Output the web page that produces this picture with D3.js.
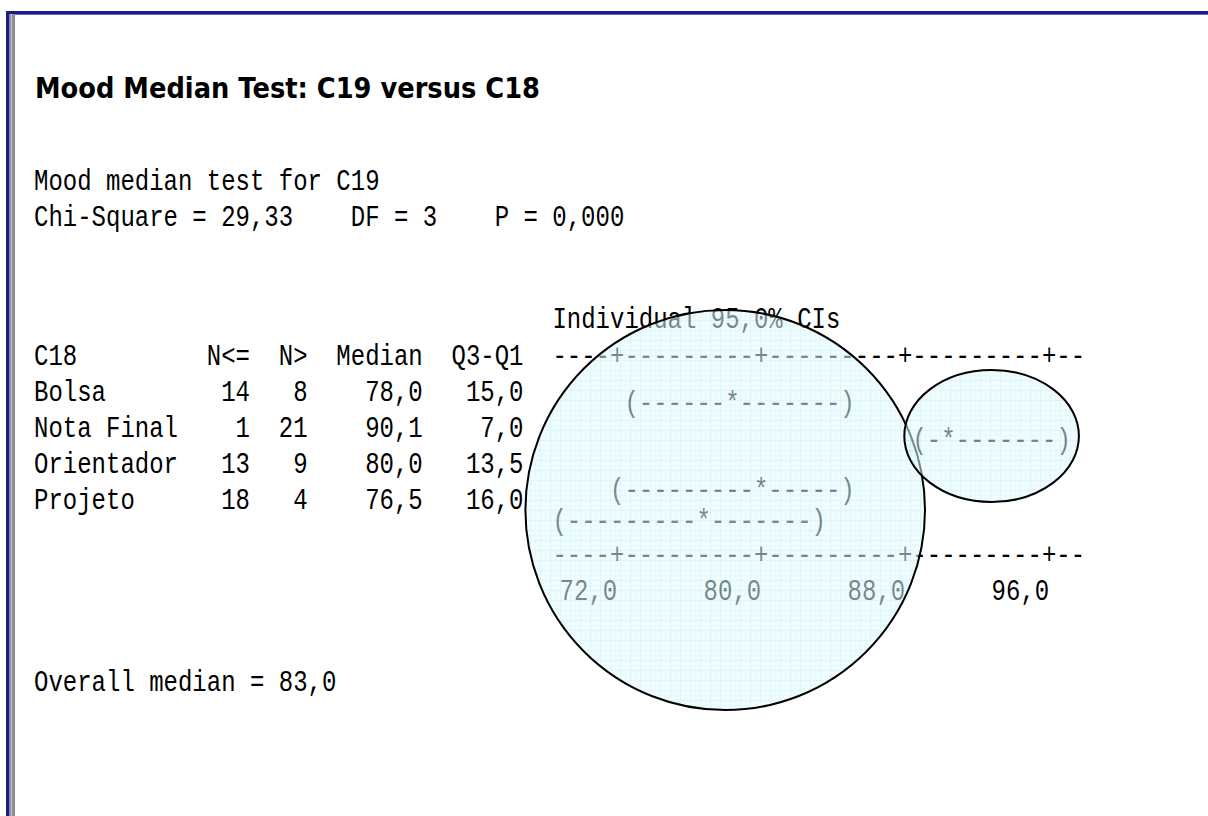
<!DOCTYPE html>
<html>
<head>
<meta charset="utf-8">
<script src="https://cdn.jsdelivr.net/npm/d3@7"></script>
<style>
  body { margin: 0; background: #fff; }
  svg { display: block; }
</style>
</head>
<body>
<div id="chart"></div>
<script>
// Minitab session output: Mood median test, C19 by C18
const titleText = 'Mood Median Test: C19 versus C18';
const responseName = 'C19';
const factorName = 'C18';
const groups = ['Bolsa', 'Nota Final', 'Orientador', 'Projeto'];
const nBelow = [14, 1, 13, 18];
const nAbove = [8, 21, 9, 4];
const medians = [78.0, 90.1, 80.0, 76.5];
const iqrs = [15.0, 7.0, 13.5, 16.0];
const ciLow = [72.8, 88.7, 71.9, 68.8];
const ciHigh = [84.8, 96.6, 84.8, 83.1];
const axisTicks = [72, 80, 88, 96];
const chiSquare = 29.33;
const degFree = 3;
const pValue = 0.000;
const overallMedian = 83.0;
const ciLevel = 95.0;

// highlight circles, in axis units (x) and pixels (y)
const highlightX = [78.0, 92.8];
const highlightRx = [11.1, 4.85];
const highlightCy = [510, 436];
const highlightRy = [200, 66];

const W = 1208, H = 816;
const m = {left: 34, charW: 14.4, stretch: 1.2, axisCol: 36,
  lines: {mood: 190, chi: 226, ind: 328, head: 365, firstRow: 401, rowH: 36, axis: 564, labels: 600, overall: 691},
  ciShift: [11, 12, 26, 21]};

const svg = d3.select('#chart').append('svg')
  .attr('width', W)
  .attr('height', H);

const defs = svg.append('defs');
const pat = defs.append('pattern')
  .attr('id', 'grid')
  .attr('width', 10).attr('height', 10)
  .attr('patternUnits', 'userSpaceOnUse');
pat.append('rect').attr('width', 10).attr('height', 10).attr('fill', '#e4fafc');
pat.append('path').attr('d', 'M0,0.5H10M0.5,0V10').attr('stroke', '#b9eef3').attr('stroke-width', 1);
pat.append('path').attr('d', 'M0,5.5H10M5.5,0V10').attr('stroke', '#d3f5f8').attr('stroke-width', 1);

// window frame
svg.append('rect').attr('x', 6).attr('y', 11).attr('width', W - 6).attr('height', 3).attr('fill', '#1b1b8a');
svg.append('rect').attr('x', 6).attr('y', 14).attr('width', W - 6).attr('height', 1).attr('fill', '#6a6ab0');
svg.append('rect').attr('x', 6).attr('y', 11).attr('width', 3).attr('height', H - 11).attr('fill', '#1b1b8a');
svg.append('rect').attr('x', 9).attr('y', 14).attr('width', 6).attr('height', H - 14).attr('fill', '#8d8d9b');
svg.append('rect').attr('x', 11).attr('y', 14).attr('width', 1).attr('height', H - 14).attr('fill', '#c4c4ce');

const colX = c => m.left + c * m.charW;
const rowY = i => m.lines.firstRow + i * m.lines.rowH;

// axis scale: tick marks sit on character cells 40, 50, 60, 70
const x = d3.scaleLinear()
  .domain([axisTicks[0], axisTicks[axisTicks.length - 1]])
  .range([colX(40.5), colX(70.5)]);
const colOf = v => Math.round((x(v) - m.left) / m.charW - 0.5);

const fmt1 = v => d3.format('.1f')(v).replace('.', ',');
const fmt2 = v => d3.format('.2f')(v).replace('.', ',');
const fmt3 = v => d3.format('.3f')(v).replace('.', ',');

const body = svg.append('g').attr('class', 'session');

function line(px, py, str, anchor) {
  return body.append('text')
    .attr('transform', 'translate(' + [px, py] + ') scale(1,' + m.stretch + ')')
    .attr('xml:space', 'preserve')
    .attr('text-anchor', anchor || 'start')
    .style('white-space', 'pre')
    .style('font-family', '"Liberation Mono", "Courier New", monospace')
    .style('font-size', '24px')
    .attr('fill', '#000')
    .text(str);
}

// title
svg.append('text')
  .attr('transform', 'translate(' + [35, 98] + ') scale(1,1.15)')
  .attr('textLength', 505)
  .attr('lengthAdjust', 'spacingAndGlyphs')
  .style('font-family', '"DejaVu Sans", Verdana, sans-serif')
  .style('font-weight', 'bold')
  .style('font-size', '24px')
  .attr('fill', '#000')
  .text(titleText);

line(colX(0), m.lines.mood, 'Mood median test for ' + responseName);
line(colX(0), m.lines.chi, 'Chi-Square = ' + fmt2(chiSquare) + '    DF = ' + degFree + '    P = ' + fmt3(pValue));

line(colX(m.axisCol), m.lines.ind, 'Individual ' + fmt1(ciLevel) + '% CIs');
line(colX(0), m.lines.head, factorName.padEnd(12) + 'N<=' + 'N>'.padStart(4) + 'Median'.padStart(8) + 'Q3-Q1'.padStart(7));

groups.forEach((g, i) => {
  const s = g.padEnd(12) + String(nBelow[i]).padStart(3) + String(nAbove[i]).padStart(4) +
    fmt1(medians[i]).padStart(8) + fmt1(iqrs[i]).padStart(7);
  line(colX(0), rowY(i), s);
  const c0 = colOf(ciLow[i]), c1 = colOf(ciHigh[i]), cm = colOf(medians[i]);
  let ci = '';
  for (let c = c0; c <= c1; c++) ci += c === c0 ? '(' : c === c1 ? ')' : c === cm ? '*' : '-';
  line(colX(c0), rowY(i) + m.ciShift[i], ci);
});

// text axis drawn from the scale
const tickCols = axisTicks.map(colOf);
let axisStr = '';
for (let c = m.axisCol; c <= tickCols[tickCols.length - 1] + 2; c++) axisStr += tickCols.includes(c) ? '+' : '-';
line(colX(m.axisCol), m.lines.head, axisStr);
line(colX(m.axisCol), m.lines.axis, axisStr);
axisTicks.forEach(t => line(x(t), m.lines.labels, fmt1(t), 'end'));

line(colX(0), m.lines.overall, 'Overall median = ' + fmt1(overallMedian));

// highlight circles over the output
const circ = svg.append('g').attr('class', 'highlights');
highlightX.forEach((v, i) => {
  const cx = x(v), cy = highlightCy[i];
  const rx = x(v + highlightRx[i]) - cx;
  const ry = highlightRy[i];
  circ.append('ellipse')
    .attr('cx', cx).attr('cy', cy).attr('rx', rx).attr('ry', ry)
    .attr('fill', 'url(#grid)')
    .attr('fill-opacity', 0.55);
  circ.append('ellipse')
    .attr('cx', cx).attr('cy', cy).attr('rx', rx).attr('ry', ry)
    .attr('fill', 'none')
    .attr('stroke', '#000')
    .attr('stroke-width', 2);
});
</script>
</body>
</html>
